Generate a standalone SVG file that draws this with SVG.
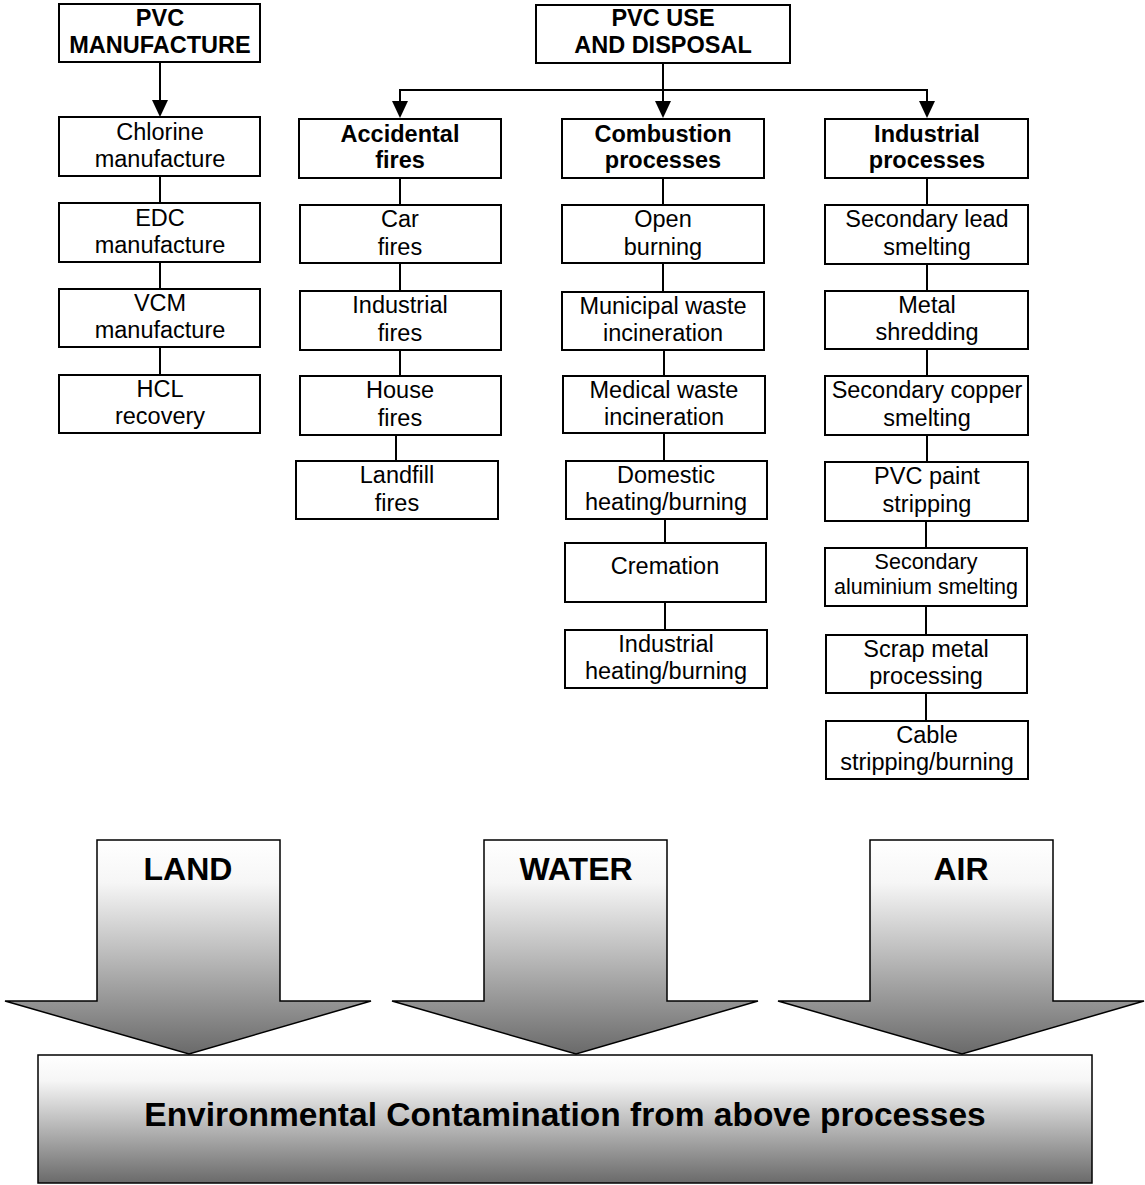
<svg xmlns="http://www.w3.org/2000/svg" width="1145" height="1185" viewBox="0 0 1145 1185">
<defs>
<style>
.bx{fill:#fff;stroke:#000;stroke-width:2}
.t{font-family:"Liberation Sans",Arial,sans-serif;font-size:23.5px;text-anchor:middle;fill:#000}
.b{font-weight:bold}
.s{font-size:21.5px}
.big{font-family:"Liberation Sans",Arial,sans-serif;font-weight:bold;text-anchor:middle;fill:#000}
.ln{stroke:#000;stroke-width:2;fill:none}
.ar{stroke:#000;stroke-width:2;fill:none;marker-end:url(#ah)}
.gr{fill:url(#g);stroke:#000;stroke-width:1.5}
</style>
<marker id="ah" viewBox="0 0 16 17" refX="8" refY="17" markerWidth="16" markerHeight="17" markerUnits="userSpaceOnUse" orient="auto-start-reverse">
<path d="M0,0 L16,0 L8,17 Z" fill="#000"/>
</marker>
<linearGradient id="g" x1="0" y1="0" x2="0" y2="1">
<stop offset="0" stop-color="#ffffff"/>
<stop offset="0.2" stop-color="#f6f6f6"/>
<stop offset="1" stop-color="#6a6a6a"/>
</linearGradient>
</defs>

<g id="connectors">
<line class="ln" x1="160" y1="62" x2="160" y2="101"/>
<path d="M152,100 L168,100 L160,117 Z" fill="#000"/>
<line class="ln" x1="160" y1="176" x2="160" y2="203"/>
<line class="ln" x1="160" y1="262" x2="160" y2="289"/>
<line class="ln" x1="160" y1="347" x2="160" y2="375"/>

<line class="ln" x1="663" y1="63" x2="663" y2="90"/>
<line class="ln" x1="399" y1="90" x2="928" y2="90"/>
<line class="ln" x1="400" y1="90" x2="400" y2="102"/>
<path d="M392,101 L408,101 L400,118 Z" fill="#000"/>
<line class="ln" x1="663" y1="90" x2="663" y2="102"/>
<path d="M655,101 L671,101 L663,118 Z" fill="#000"/>
<line class="ln" x1="927" y1="90" x2="927" y2="102"/>
<path d="M919,101 L935,101 L927,118 Z" fill="#000"/>

<line class="ln" x1="400" y1="178" x2="400" y2="205"/>
<line class="ln" x1="400" y1="263" x2="400" y2="291"/>
<line class="ln" x1="400" y1="350" x2="400" y2="376"/>
<line class="ln" x1="396" y1="435" x2="396" y2="461"/>

<line class="ln" x1="663" y1="178" x2="663" y2="205"/>
<line class="ln" x1="663" y1="263" x2="663" y2="292"/>
<line class="ln" x1="664" y1="350" x2="664" y2="376"/>
<line class="ln" x1="664" y1="433" x2="664" y2="461"/>
<line class="ln" x1="665" y1="519" x2="665" y2="543"/>
<line class="ln" x1="665" y1="602" x2="665" y2="630"/>

<line class="ln" x1="927" y1="178" x2="927" y2="205"/>
<line class="ln" x1="927" y1="264" x2="927" y2="291"/>
<line class="ln" x1="927" y1="349" x2="927" y2="376"/>
<line class="ln" x1="927" y1="435" x2="927" y2="462"/>
<line class="ln" x1="926" y1="521" x2="926" y2="548"/>
<line class="ln" x1="926" y1="606" x2="926" y2="635"/>
<line class="ln" x1="926" y1="693" x2="926" y2="721"/>
</g>

<g id="n-pvc-manufacture"><rect class="bx" x="59" y="4" width="201" height="58"/><text class="t b" x="160" y="26">PVC</text><text class="t b" x="160" y="53">MANUFACTURE</text></g>
<g id="n-chlorine"><rect class="bx" x="59" y="117" width="201" height="59"/><text class="t" x="160" y="140">Chlorine</text><text class="t" x="160" y="167">manufacture</text></g>
<g id="n-edc"><rect class="bx" x="59" y="203" width="201" height="59"/><text class="t" x="160" y="226">EDC</text><text class="t" x="160" y="253">manufacture</text></g>
<g id="n-vcm"><rect class="bx" x="59" y="289" width="201" height="58"/><text class="t" x="160" y="311">VCM</text><text class="t" x="160" y="338">manufacture</text></g>
<g id="n-hcl"><rect class="bx" x="59" y="375" width="201" height="58"/><text class="t" x="160" y="397">HCL</text><text class="t" x="160" y="424">recovery</text></g>

<g id="n-pvc-use"><rect class="bx" x="536" y="5" width="254" height="58"/><text class="t b" x="663" y="26">PVC USE</text><text class="t b" x="663" y="53">AND DISPOSAL</text></g>

<g id="n-accidental"><rect class="bx" x="299" y="119" width="202" height="59"/><text class="t b" x="400" y="142">Accidental</text><text class="t b" x="400" y="168">fires</text></g>
<g id="n-car"><rect class="bx" x="300" y="205" width="201" height="58"/><text class="t" x="400" y="227">Car</text><text class="t" x="400" y="255">fires</text></g>
<g id="n-industrial-fires"><rect class="bx" x="300" y="291" width="201" height="59"/><text class="t" x="400" y="313">Industrial</text><text class="t" x="400" y="341">fires</text></g>
<g id="n-house"><rect class="bx" x="300" y="376" width="201" height="59"/><text class="t" x="400" y="398">House</text><text class="t" x="400" y="426">fires</text></g>
<g id="n-landfill"><rect class="bx" x="296" y="461" width="202" height="58"/><text class="t" x="397" y="483">Landfill</text><text class="t" x="397" y="511">fires</text></g>

<g id="n-combustion"><rect class="bx" x="562" y="119" width="202" height="59"/><text class="t b" x="663" y="142">Combustion</text><text class="t b" x="663" y="168">processes</text></g>
<g id="n-open"><rect class="bx" x="562" y="205" width="202" height="58"/><text class="t" x="663" y="227">Open</text><text class="t" x="663" y="255">burning</text></g>
<g id="n-municipal"><rect class="bx" x="562" y="292" width="202" height="58"/><text class="t" x="663" y="314">Municipal waste</text><text class="t" x="663" y="341">incineration</text></g>
<g id="n-medical"><rect class="bx" x="563" y="376" width="202" height="57"/><text class="t" x="664" y="398">Medical waste</text><text class="t" x="664" y="425">incineration</text></g>
<g id="n-domestic"><rect class="bx" x="566" y="461" width="201" height="58"/><text class="t" x="666" y="483">Domestic</text><text class="t" x="666" y="510">heating/burning</text></g>
<g id="n-cremation"><rect class="bx" x="565" y="543" width="201" height="59"/><text class="t" x="665" y="574">Cremation</text></g>
<g id="n-industrial-heating"><rect class="bx" x="565" y="630" width="202" height="58"/><text class="t" x="666" y="652">Industrial</text><text class="t" x="666" y="679">heating/burning</text></g>

<g id="n-industrial-processes"><rect class="bx" x="825" y="119" width="203" height="59"/><text class="t b" x="927" y="142">Industrial</text><text class="t b" x="927" y="168">processes</text></g>
<g id="n-lead"><rect class="bx" x="825" y="205" width="203" height="59"/><text class="t" x="927" y="227">Secondary lead</text><text class="t" x="927" y="255">smelting</text></g>
<g id="n-shredding"><rect class="bx" x="825" y="291" width="203" height="58"/><text class="t" x="927" y="313">Metal</text><text class="t" x="927" y="340">shredding</text></g>
<g id="n-copper"><rect class="bx" x="825" y="376" width="203" height="59"/><text class="t" x="927" y="398">Secondary copper</text><text class="t" x="927" y="426">smelting</text></g>
<g id="n-paint"><rect class="bx" x="825" y="462" width="203" height="59"/><text class="t" x="927" y="484">PVC paint</text><text class="t" x="927" y="512">stripping</text></g>
<g id="n-aluminium"><rect class="bx" x="825" y="548" width="202" height="58"/><text class="t s" x="926" y="569">Secondary</text><text class="t s" x="926" y="594">aluminium smelting</text></g>
<g id="n-scrap"><rect class="bx" x="826" y="635" width="201" height="58"/><text class="t" x="926" y="657">Scrap metal</text><text class="t" x="926" y="684">processing</text></g>
<g id="n-cable"><rect class="bx" x="826" y="721" width="202" height="58"/><text class="t" x="927" y="743">Cable</text><text class="t" x="927" y="770">stripping/burning</text></g>

<g id="n-environment"><rect class="gr" x="38" y="1055" width="1054" height="128"/><text class="big" x="565" y="1126" font-size="33.5">Environmental Contamination from above processes</text></g>
<g id="n-land"><polygon class="gr" points="97,840 280,840 280,1001 371,1001 189,1054 5,1001 97,1001"/><text class="big" x="188" y="880" font-size="32">LAND</text></g>
<g id="n-water"><polygon class="gr" points="484,840 667,840 667,1001 758,1001 576,1054 392,1001 484,1001"/><text class="big" x="576" y="880" font-size="32">WATER</text></g>
<g id="n-air"><polygon class="gr" points="870,840 1053,840 1053,1001 1144,1001 962,1054 778,1001 870,1001"/><text class="big" x="961" y="880" font-size="32">AIR</text></g>
</svg>
